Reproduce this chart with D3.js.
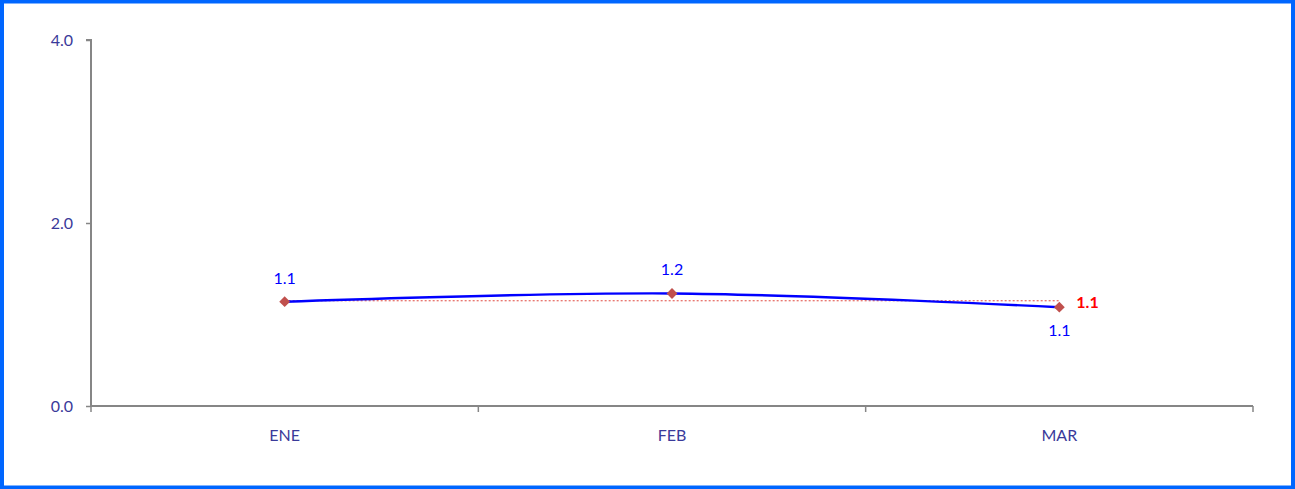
<!DOCTYPE html>
<html><head><meta charset="utf-8">
<script src="https://cdn.jsdelivr.net/npm/d3@7"></script>
<style>
html,body{margin:0;padding:0;background:#fff;}
svg{display:block;}
</style></head>
<body>
<script>
const categories = ["ENE", "FEB", "MAR"];
const values = [1.14, 1.23, 1.08];
const valueLabels = ["1.1", "1.2", "1.1"];
const average = 1.15;
const averageLabel = "1.1";
const yTicks = [0, 2, 4];

(function () {
const W = 1295, H = 489;
const svg = d3.select("body").append("svg").attr("width", W).attr("height", H);
svg.append("rect").attr("x", 2).attr("y", 1.5).attr("width", W - 4).attr("height", H - 3)
  .attr("fill", "#fff").attr("stroke", "#0066FF").attr("stroke-width", 4);

const pLeft = 91, pRight = 1253, pTop = 40, pBottom = 406;
const x = d3.scaleBand().domain(categories).range([pLeft, pRight]).padding(0);
const y = d3.scaleLinear().domain([0, 4]).range([pBottom, pTop]);
const font = "Lato, 'Open Sans', sans-serif";
const axisColor = "#868686";
const tickText = "#3A3A9A";
const fs = "16px";

// y axis
const ya = svg.append("g").attr("transform", `translate(${pLeft},0)`)
  .call(d3.axisLeft(y).tickValues(yTicks).tickFormat(d3.format(".1f")).tickSize(5).tickPadding(13));
ya.select(".domain").attr("stroke", axisColor).attr("stroke-width", 2).attr("d", `M-5,${pTop}H0V${pBottom}`);
ya.selectAll(".tick line").attr("stroke", axisColor).attr("stroke-width", 1.5);
ya.selectAll(".tick text").attr("fill", tickText).style("font-family", font).style("font-size", fs);

// x axis
const xa = svg.append("g").attr("transform", `translate(0,${pBottom})`)
  .call(d3.axisBottom(x).tickSize(0).tickPadding(24));
xa.select(".domain").attr("stroke", axisColor).attr("stroke-width", 2).attr("d", `M${pLeft},0H${pRight}`);
xa.selectAll(".tick text").attr("fill", tickText).style("font-family", font).style("font-size", fs);
const bounds = [pLeft, ...categories.slice(1).map(c => x(c)), pRight];
xa.selectAll(".bnd").data(bounds).enter().append("line")
  .attr("x1", d => d).attr("x2", d => d).attr("y1", 0).attr("y2", 6)
  .attr("stroke", axisColor).attr("stroke-width", 1.5);

const cx = c => x(c) + x.bandwidth() / 2;

// average dotted line
svg.append("line")
  .attr("x1", cx(categories[0])).attr("x2", cx(categories[categories.length - 1]))
  .attr("y1", y(average)).attr("y2", y(average))
  .attr("stroke", "#E0483F").attr("stroke-width", 1).attr("stroke-dasharray", "2,2");

// line
const line = d3.line().x((d, i) => cx(categories[i])).y(d => y(d)).curve(d3.curveCatmullRom.alpha(0.5));
svg.append("path").datum(values).attr("d", line)
  .attr("fill", "none").attr("stroke", "#0000FF").attr("stroke-width", 2.4);

// markers
svg.selectAll(".mk").data(values).enter().append("path")
  .attr("d", d3.symbol().type(d3.symbolDiamond2).size(75))
  .attr("transform", (d, i) => `translate(${cx(categories[i])},${y(d)})`)
  .attr("fill", "#C0504D");

// labels
const offs = [-18, -18, 29];
svg.selectAll(".lb").data(values).enter().append("text")
  .attr("x", (d, i) => cx(categories[i])).attr("y", (d, i) => y(d) + offs[i])
  .attr("text-anchor", "middle").attr("fill", "#0000FF")
  .style("font-family", font).style("font-size", fs)
  .text((d, i) => valueLabels[i]);

svg.append("text").attr("x", cx(categories[categories.length - 1]) + 17).attr("y", y(average) + 7)
  .attr("fill", "#FF0000").style("font-family", font).style("font-size", fs).style("font-weight", "bold")
  .text(averageLabel);
})();
</script>
</body></html>
